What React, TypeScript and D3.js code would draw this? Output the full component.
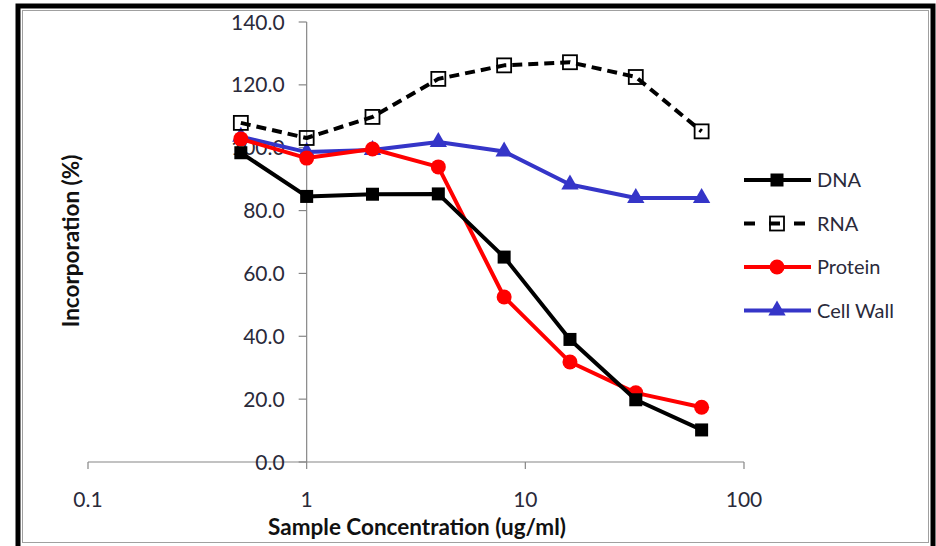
import React, { useEffect, useRef } from 'react';
import * as d3 from 'd3';

const concentrations = [0.5, 1, 2, 4, 8, 16, 32, 64];
const dnaValues = [98.4, 84.5, 85.2, 85.3, 65.2, 39.0, 19.8, 10.2];
const rnaValues = [107.9, 103.1, 109.8, 121.9, 126.2, 127.2, 122.5, 105.2];
const proteinValues = [102.8, 96.7, 99.6, 93.9, 52.5, 31.8, 22.0, 17.4];
const cellWallValues = [103.5, 98.6, 99.3, 101.8, 98.8, 88.3, 84.0, 84.0];
const xTicks = [0.1, 1, 10, 100];
const yTicks = [0, 20, 40, 60, 80, 100, 120, 140];

const seriesList = [
  { name: 'DNA', values: dnaValues, color: '#000000', marker: 'square', dash: null },
  { name: 'RNA', values: rnaValues, color: '#000000', marker: 'hollow', dash: '10,6' },
  { name: 'Protein', values: proteinValues, color: '#ff0000', marker: 'circle', dash: null },
  { name: 'Cell Wall', values: cellWallValues, color: '#3535c8', marker: 'triangle', dash: null },
];

const FONT = "Lato, 'Open Sans', sans-serif";

export default function App() {
  const ref = useRef<SVGSVGElement>(null);

  useEffect(() => {
    const width = 936;
    const height = 546;
    const svg = d3.select(ref.current);
    svg.selectAll('*').remove();
    svg.attr('width', width).attr('height', height);

    svg.append('rect').attr('width', width).attr('height', height).attr('fill', '#fff');

    // frame: thick black outer, thin gray inner
    svg.append('rect')
      .attr('x', 18).attr('y', 6).attr('width', 915).attr('height', 560)
      .attr('fill', 'none').attr('stroke', '#000').attr('stroke-width', 5);
    svg.append('rect')
      .attr('x', 22.5).attr('y', 10.5).attr('width', 906).attr('height', 532)
      .attr('fill', 'none').attr('stroke', '#a0a0a0').attr('stroke-width', 1);

    const x = d3.scaleLog().domain([0.1, 100]).range([88, 744]);
    const y = d3.scaleLinear().domain([0, 140]).range([462, 22]);
    const axisColor = '#868686';
    const textColor = '#2a2a3a';

    // x axis
    const xAxis = svg.append('g').attr('transform', `translate(0,${y(0)})`);
    xAxis.append('line')
      .attr('x1', x(0.1)).attr('x2', x(100))
      .attr('stroke', axisColor).attr('stroke-width', 1.2);
    xTicks.forEach((t) => {
      xAxis.append('line')
        .attr('x1', x(t)).attr('x2', x(t)).attr('y1', 0).attr('y2', 7)
        .attr('stroke', axisColor).attr('stroke-width', 1.2);
      xAxis.append('text')
        .attr('x', x(t)).attr('y', 45)
        .attr('text-anchor', 'middle')
        .attr('font-family', FONT).attr('font-size', 21).attr('fill', textColor)
        .text(String(t));
    });

    // y axis
    const yAxis = svg.append('g').attr('transform', `translate(${x(1)},0)`);
    yAxis.append('line')
      .attr('y1', y(0)).attr('y2', y(140))
      .attr('stroke', axisColor).attr('stroke-width', 1.2);
    yTicks.forEach((t) => {
      yAxis.append('line')
        .attr('x1', -8).attr('x2', 0).attr('y1', y(t)).attr('y2', y(t))
        .attr('stroke', axisColor).attr('stroke-width', 1.2);
      yAxis.append('text')
        .attr('x', -22).attr('y', y(t)).attr('dy', '0.36em')
        .attr('text-anchor', 'end')
        .attr('font-family', FONT).attr('font-size', 21).attr('fill', textColor)
        .text(t.toFixed(1));
    });

    // axis titles
    svg.append('text')
      .attr('x', 417).attr('y', 535)
      .attr('text-anchor', 'middle')
      .attr('font-family', FONT).attr('font-size', 22.5).attr('font-weight', 'bold').attr('fill', '#111')
      .text('Sample Concentration (ug/ml)');
    svg.append('text')
      .attr('transform', 'translate(79,241) rotate(-90)')
      .attr('text-anchor', 'middle')
      .attr('font-family', FONT).attr('font-size', 22.5).attr('font-weight', 'bold').attr('fill', '#111')
      .text('Incorporation (%)');

    const drawMarker = (g: any, kind: string, cx: number, cy: number, color: string) => {
      if (kind === 'square') {
        g.append('rect').attr('x', cx - 6.5).attr('y', cy - 6.5).attr('width', 13).attr('height', 13).attr('fill', color);
      } else if (kind === 'hollow') {
        g.append('rect').attr('x', cx - 7).attr('y', cy - 7).attr('width', 14).attr('height', 14)
          .attr('fill', 'none').attr('stroke', color).attr('stroke-width', 1.8);
      } else if (kind === 'circle') {
        g.append('circle').attr('cx', cx).attr('cy', cy).attr('r', 7.5).attr('fill', color);
      } else {
        g.append('path')
          .attr('d', d3.symbol().type(d3.symbolTriangle).size(130)())
          .attr('transform', `translate(${cx},${cy})`)
          .attr('fill', color);
      }
    };

    const line = d3.line<number>()
      .x((d, i) => x(concentrations[i]))
      .y((d) => y(d));

    // draw in reverse so DNA sits on top
    [...seriesList].reverse().forEach((s) => {
      const g = svg.append('g');
      g.append('path')
        .attr('d', line(s.values))
        .attr('fill', 'none')
        .attr('stroke', s.color)
        .attr('stroke-width', 4)
        .attr('stroke-dasharray', s.dash)
        .attr('stroke-linejoin', 'round');
      s.values.forEach((v, i) => drawMarker(g, s.marker, x(concentrations[i]), y(v), s.color));
    });

    // legend
    const legend = svg.append('g');
    seriesList.forEach((s, i) => {
      const ly = 180 + i * 43.5;
      legend.append('line')
        .attr('x1', 744).attr('x2', 811).attr('y1', ly).attr('y2', ly)
        .attr('stroke', s.color).attr('stroke-width', 4)
        .attr('stroke-dasharray', s.dash ? '11,14' : null);
      drawMarker(legend, s.marker, 777, ly, s.color);
      legend.append('text')
        .attr('x', 817).attr('y', ly).attr('dy', '0.36em')
        .attr('font-family', FONT).attr('font-size', 20).attr('fill', textColor)
        .text(s.name);
    });
  }, []);

  return (
    <svg ref={ref} style={{ position: 'absolute', left: 0, top: 0, display: 'block' }} />
  );
}
